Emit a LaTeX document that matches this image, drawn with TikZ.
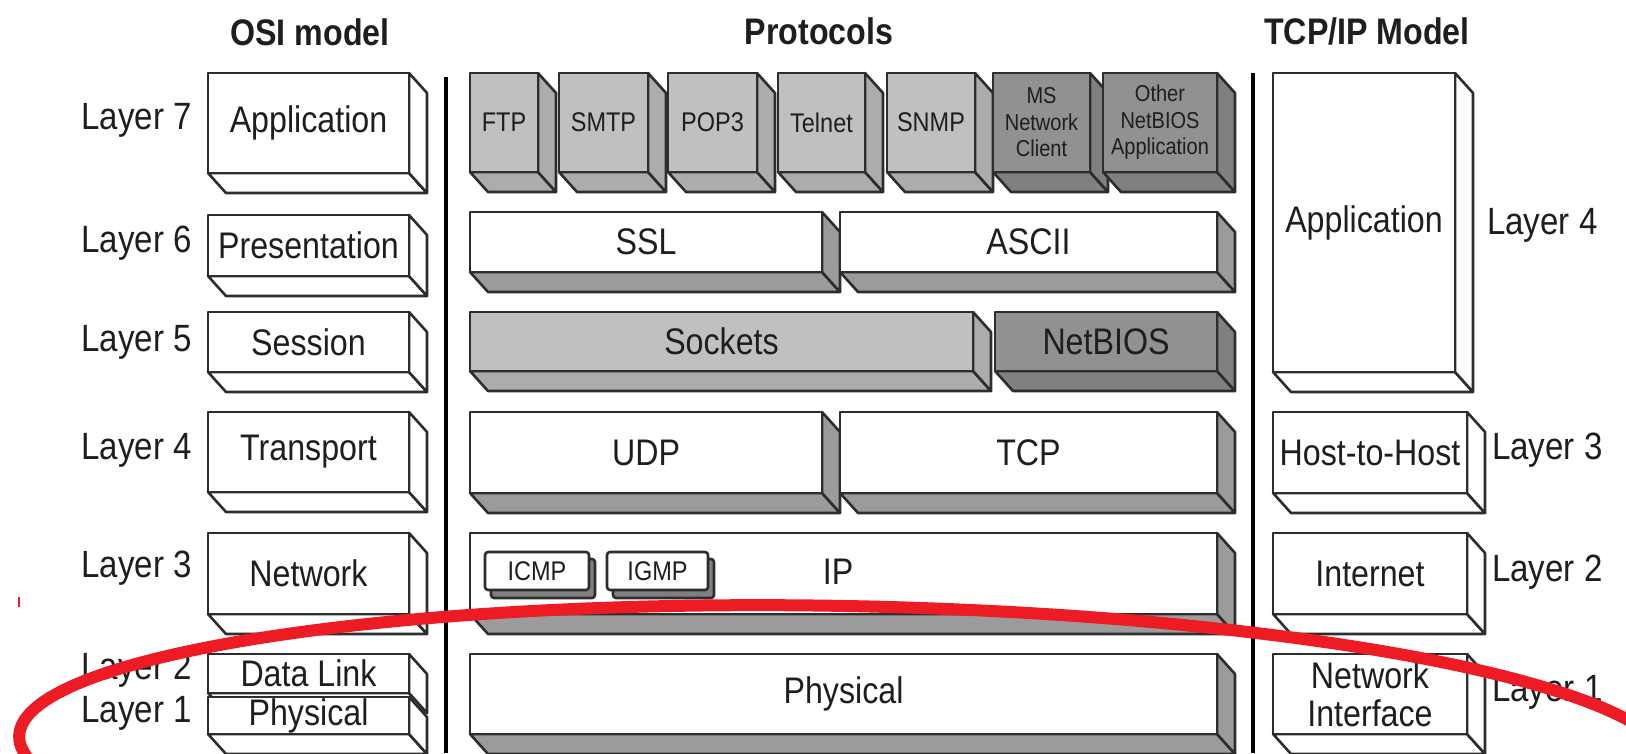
\documentclass[tikz,border=0pt]{standalone}
\usepackage{fontspec}
\setmainfont{Liberation Sans}[FakeStretch=0.87]
\usepackage{tikz}
\usetikzlibrary{calc}
\tikzset{every node/.append style={align=center}}
\definecolor{edgecol}{RGB}{45,45,45}
\definecolor{inkcol}{RGB}{30,30,30}
\definecolor{lightbox}{RGB}{192,192,192}
\definecolor{lightside}{RGB}{172,172,172}
\definecolor{darkbox}{RGB}{145,145,145}
\definecolor{darkside}{RGB}{128,128,128}
\definecolor{whiteside}{RGB}{155,155,155}
\definecolor{markred}{RGB}{237,28,36}

\tikzset{
  face/.style={draw=edgecol, line width=2.6pt, line join=round},
  lbl/.style={text=inkcol, font=\fontsize{37}{38}\selectfont, inner sep=0pt},
  small/.style={text=inkcol, font=\fontsize{27}{28}\selectfont, inner sep=0pt},
  tiny/.style={text=inkcol, font=\fontsize{23}{26.5}\selectfont, inner sep=0pt},
  title/.style={text=inkcol, font=\fontsize{37}{38}\selectfont\bfseries},
  layer/.style={text=inkcol, font=\fontsize{38}{38}\selectfont, inner sep=0pt}
}

% 3D slab: name, x1, y1, x2, y2 (front face), front fill, depth fill, label, label style
\newcommand{\slab}[9]{%
  \filldraw[face, fill=#7] (#2,#5) -- (#2+18,#5+20) -- (#4+18,#5+20) -- (#4,#5) -- cycle;
  \filldraw[face, fill=#7] (#4,#3) -- (#4+18,#3+20) -- (#4+18,#5+20) -- (#4,#5) -- cycle;
  \filldraw[face, fill=#6] (#2,#3) rectangle (#4,#5);
  \node[#9] (#1) at ({(#2+#4)/2},{(#3+#5)/2}) {#8};
}

\begin{document}
\begin{tikzpicture}[x=1pt,y=-1pt]
\useasboundingbox (0,0) rectangle (1626,753);

% ── Column titles ────────────────────────────────────────────────────────────
\node[title] (osititle) at (310,32) {OSI model};
\node[title] (prottitle) at (819,31) {Protocols};
\node[title] (tcptitle) at (1367,31) {TCP/IP Model};

% ── Separators ───────────────────────────────────────────────────────────────
\draw[black, line width=4pt] (446,77) -- (446,753);
\draw[black, line width=4pt] (1253,73) -- (1253,753);

% ── OSI model ────────────────────────────────────────────────────────────────
\slab{osiapp}{208}{73}{409}{173}{white}{white}{Application}{lbl}
\slab{osipres}{208}{215}{409}{276}{white}{white}{Presentation}{lbl}
\slab{osisess}{208}{312}{409}{372}{white}{white}{Session}{lbl}
\slab{ositrans}{208}{412}{409}{492}{white}{white}{Transport}{lbl}
\slab{osinet}{208}{533}{409}{614}{white}{white}{Network}{lbl}
\slab{osidata}{208}{654}{409}{693}{white}{white}{Data Link}{lbl}
\slab{osiphys}{208}{697}{409}{734}{white}{white}{Physical}{lbl}

\foreach \n/\ypos in {7/120, 6/243, 5/342, 4/450, 3/568, 2/670, 1/713} {
  \node[layer, anchor=east] (osil\n) at (192,\ypos) {Layer \n};
}

% ── Protocols ────────────────────────────────────────────────────────────────
\foreach \nm/\xa/\xb/\lb in {
    ftp/470/538/FTP,
    smtp/559/648/SMTP,
    pop/668/757/POP3,
    telnet/778/865/Telnet,
    snmp/887/975/SNMP}
{
  \slab{\nm}{\xa}{73}{\xb}{172}{lightbox}{lightside}{\lb}{small}
}
\slab{msclient}{993}{73}{1090}{172}{darkbox}{darkside}{MS\\Network\\Client}{tiny}
\slab{otherapp}{1103}{73}{1217}{172}{darkbox}{darkside}{Other\\NetBIOS\\Application}{tiny}

\slab{ssl}{470}{212}{822}{272}{white}{whiteside}{SSL}{lbl}
\slab{ascii}{840}{212}{1217}{272}{white}{whiteside}{ASCII}{lbl}

\slab{sockets}{470}{312}{973}{371}{lightbox}{lightside}{Sockets}{lbl}
\slab{netbios}{995}{312}{1217}{371}{darkbox}{darkside}{NetBIOS}{lbl}

\slab{udp}{470}{412}{822}{493}{white}{whiteside}{UDP}{lbl}
\slab{tcp}{840}{412}{1217}{493}{white}{whiteside}{TCP}{lbl}

\slab{ipbox}{470}{533}{1217}{614}{white}{whiteside}{}{lbl}
\node[lbl] (ip) at (838,572) {IP};
\foreach \nm/\xa/\xb/\lb in {icmp/485/589/ICMP, igmp/607/708/IGMP} {
  \filldraw[face, fill=darkside, rounded corners=3pt]
       (\xa+6,559) rectangle (\xb+6,598);
  \filldraw[face, fill=white, rounded corners=3pt]
       (\xa,552) rectangle (\xb,590);
  \node[small] (\nm) at ({(\xa+\xb)/2},571) {\lb};
}

\slab{physical}{470}{654}{1217}{734}{white}{whiteside}{Physical}{lbl}

% ── TCP/IP model ─────────────────────────────────────────────────────────────
\slab{tcpapp}{1273}{73}{1455}{372}{white}{white}{Application}{lbl}
\slab{hosthost}{1273}{412}{1467}{493}{white}{white}{Host-to-Host}{lbl}
\slab{internet}{1273}{533}{1467}{614}{white}{white}{Internet}{lbl}
\slab{netif}{1273}{654}{1467}{734}{white}{white}{Network\\Interface}{lbl}

\node[layer, anchor=west] (tcpl4) at (1487,225) {Layer 4};
\node[layer, anchor=west] (tcpl3) at (1492,450) {Layer 3};
\node[layer, anchor=west] (tcpl2) at (1492,572) {Layer 2};
\node[layer, anchor=west] (tcpl1) at (1492,692) {Layer 1};

% ── Red marking ──────────────────────────────────────────────────────────────
\begin{scope}
  \clip (0,0) rectangle (1626,753);
  \draw[markred, line width=12pt, rotate around={-1.1:(845,752)}]
       (845,752) ellipse [x radius=826, y radius=146];
  \draw[markred, line width=2pt] (19,597) -- (19,607);
\end{scope}

\end{tikzpicture}
\end{document}
